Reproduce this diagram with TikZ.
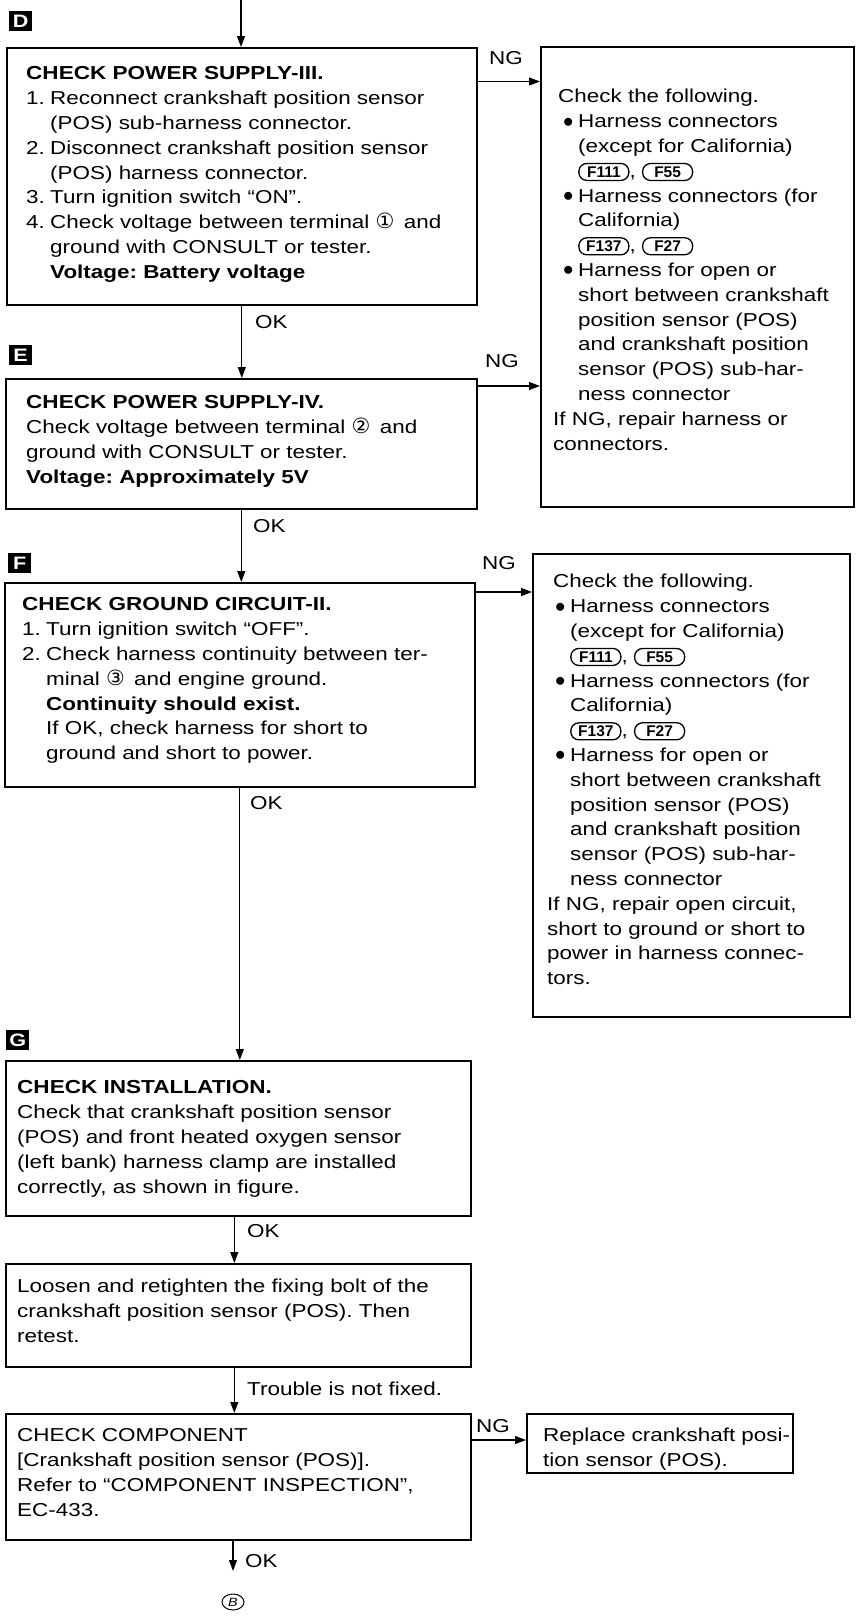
\documentclass[tikz,border=0pt]{standalone}
\usepackage{fontspec}
\setmainfont{Liberation Sans}[FakeStretch=1.2]
\newfontfamily\symfont{DejaVu Sans}
\newfontfamily\pillfont{Liberation Sans}[FakeStretch=1.0]
\usetikzlibrary{arrows.meta,shapes.geometric}
\frenchspacing
\newcommand\bodyfont{\fontsize{18.7}{24.8}\selectfont\frenchspacing}
\newcommand\ttl[1]{{\fontsize{18.8}{24.8}\selectfont\bfseries #1}}
\newcommand\cn[1]{{\symfont\fontsize{21}{24.8}\selectfont #1}\hspace{3pt}}
\newcommand\pill[1]{\tikz[baseline=(pk.base)]\node[draw,line width=1.3pt,rounded corners=8pt,minimum width=50pt,minimum height=17pt,inner sep=0pt,text width=48pt,align=center,anchor=base,font=\pillfont\bfseries\fontsize{15.5}{16}\selectfont](pk){#1};}
\newcommand\bul{\makebox[15pt][l]{\raisebox{0.5pt}{\scalebox{1.2}{$\bullet$}}}}
\newcommand\num[1]{\makebox[24pt][l]{#1}}
\begin{document}
\begin{tikzpicture}[x=1pt,y=-1pt,
  box/.style={draw,line width=1.6pt,inner sep=0pt,anchor=north west},
  txt/.style={anchor=north west,inner sep=0pt,text width=520pt,align=left,font=\bodyfont},
  arr/.style={line width=1.2pt,-{Triangle[length=11pt,width=8pt]}},
  lbl/.style={inner sep=0pt,font=\bodyfont},
  badge/.style={fill=black,text=white,minimum width=23pt,minimum height=20pt,inner sep=0pt,font=\fontsize{18}{18}\selectfont\bfseries,anchor=north west}]
\useasboundingbox (0,0) rectangle (858,1617);
% boxes
\node[box,minimum width=470pt,minimum height=257pt] (D) at (6,47) {};
\node[box,minimum width=471pt,minimum height=130pt] (E) at (5,378) {};
\node[box,minimum width=470pt,minimum height=204pt] (F) at (4,582) {};
\node[box,minimum width=465pt,minimum height=155pt] (G) at (5,1060) {};
\node[box,minimum width=465pt,minimum height=103pt] (H) at (5,1263) {};
\node[box,minimum width=465pt,minimum height=126pt] (I) at (5,1413) {};
\node[box,minimum width=313pt,minimum height=460pt] (R1) at (540,46) {};
\node[box,minimum width=317pt,minimum height=463pt] (R2) at (532,553) {};
\node[box,minimum width=266pt,minimum height=59pt] (R3) at (526,1413) {};
% badges
\node[badge] (bD) at (9,11) {D};
\node[badge] (bE) at (9,345) {E};
\node[badge] (bF) at (8,553) {F};
\node[badge] (bG) at (6,1030) {G};
% texts
\node[txt] (tD) at (26,62.3) {\strut\ttl{CHECK POWER SUPPLY-III.}\\
\num{1.}Reconnect crankshaft position sensor\\
\hspace*{24pt}(POS) sub-harness connector.\\
\num{2.}Disconnect crankshaft position sensor\\
\hspace*{24pt}(POS) harness connector.\\
\num{3.}Turn ignition switch “ON”.\\
\num{4.}Check voltage between terminal \cn{①} and\\
\hspace*{24pt}ground with CONSULT or tester.\\
\hspace*{24pt}\textbf{Voltage: Battery voltage}};
\node[txt] (tE) at (26,391.3) {\strut\ttl{CHECK POWER SUPPLY-IV.}\\
Check voltage between terminal \cn{②} and\\
ground with CONSULT or tester.\\
\textbf{Voltage: Approximately 5V}};
\node[txt] (tF) at (22,593.3) {\strut\ttl{CHECK GROUND CIRCUIT-II.}\\
\num{1.}Turn ignition switch “OFF”.\\
\num{2.}Check harness continuity between ter-\\
\hspace*{24pt}minal \cn{③} and engine ground.\\
\hspace*{24pt}\textbf{Continuity should exist.}\\
\hspace*{24pt}If OK, check harness for short to\\
\hspace*{24pt}ground and short to power.};
\node[txt] (tG) at (17,1076.3) {\strut\ttl{CHECK INSTALLATION.}\\
Check that crankshaft position sensor\\
(POS) and front heated oxygen sensor\\
(left bank) harness clamp are installed\\
correctly, as shown in figure.};
\node[txt] (tH) at (17,1275.3) {\strut Loosen and retighten the fixing bolt of the\\
crankshaft position sensor (POS). Then\\
retest.};
\node[txt] (tI) at (17,1424.3) {\strut CHECK COMPONENT\\
{[}Crankshaft position sensor (POS)].\\
Refer to “COMPONENT INSPECTION”,\\
EC-433.};
\node[txt] (tR1) at (553,85.3) {\strut\hspace*{5pt}Check the following.\\
\hspace*{10pt}\bul Harness connectors\\
\hspace*{25pt}(except for California)\\
\hspace*{25pt}\pill{F111}, \pill{F55}\\
\hspace*{10pt}\bul Harness connectors (for\\
\hspace*{25pt}California)\\
\hspace*{25pt}\pill{F137}, \pill{F27}\\
\hspace*{10pt}\bul Harness for open or\\
\hspace*{25pt}short between crankshaft\\
\hspace*{25pt}position sensor (POS)\\
\hspace*{25pt}and crankshaft position\\
\hspace*{25pt}sensor (POS) sub-har-\\
\hspace*{25pt}ness connector\\
If NG, repair harness or\\
connectors.};
\node[txt] (tR2) at (547,570.3) {\strut\hspace*{6pt}Check the following.\\
\hspace*{8pt}\bul Harness connectors\\
\hspace*{23pt}(except for California)\\
\hspace*{23pt}\pill{F111}, \pill{F55}\\
\hspace*{8pt}\bul Harness connectors (for\\
\hspace*{23pt}California)\\
\hspace*{23pt}\pill{F137}, \pill{F27}\\
\hspace*{8pt}\bul Harness for open or\\
\hspace*{23pt}short between crankshaft\\
\hspace*{23pt}position sensor (POS)\\
\hspace*{23pt}and crankshaft position\\
\hspace*{23pt}sensor (POS) sub-har-\\
\hspace*{23pt}ness connector\\
If NG, repair open circuit,\\
short to ground or short to\\
power in harness connec-\\
tors.};
\node[txt] (tR3) at (543,1424.3) {\strut Replace crankshaft posi-\\
tion sensor (POS).};
% connectors
\coordinate (top) at (241,0);
\draw[arr] (top) -- (top |- D.north);
\draw[arr] (D.south) -- (D.south |- E.north);
\draw[arr] (E.south) -- (E.south |- F.north);
\draw[arr] (F.south) -- (F.south |- G.north);
\draw[arr] ([xshift=-4pt]G.south) -- ([xshift=-4pt]G.south |- H.north);
\draw[arr] ([xshift=-4pt]H.south) -- ([xshift=-4pt]H.south |- I.north);
\coordinate (cI) at (233,1571);
\draw[arr] (I.south -| cI) -- (cI);
\coordinate (nD) at (0,81.5);
\coordinate (nE) at (0,386);
\coordinate (nF) at (0,592);
\coordinate (nI) at (0,1440);
\draw[arr] (D.east |- nD) -- (R1.west |- nD);
\draw[arr] (E.east |- nE) -- (R1.west |- nE);
\draw[arr] (F.east |- nF) -- (R2.west |- nF);
\draw[arr] (I.east |- nI) -- (R3.west |- nI);
% labels
\node[lbl] (ngD) at (506,58.5) {NG};
\node[lbl] (ngE) at (502,361) {NG};
\node[lbl] (ngF) at (499,563) {NG};
\node[lbl] (ngI) at (493,1426) {NG};
\node[lbl,anchor=west] (okD) at (255,322) {OK};
\node[lbl,anchor=west] (okE) at (253,526) {OK};
\node[lbl,anchor=west] (okF) at (250,803) {OK};
\node[lbl,anchor=west] (okG) at (247,1231) {OK};
\node[lbl,anchor=west] (tnf) at (247,1389) {Trouble is not fixed.};
\node[lbl,anchor=west] (okI) at (245,1561) {OK};
\node[ellipse,draw,line width=1pt,minimum width=22pt,minimum height=16pt,inner sep=0pt,font=\fontsize{12}{12}\selectfont\itshape] (B) at (233,1602) {B};
\end{tikzpicture}
\end{document}
